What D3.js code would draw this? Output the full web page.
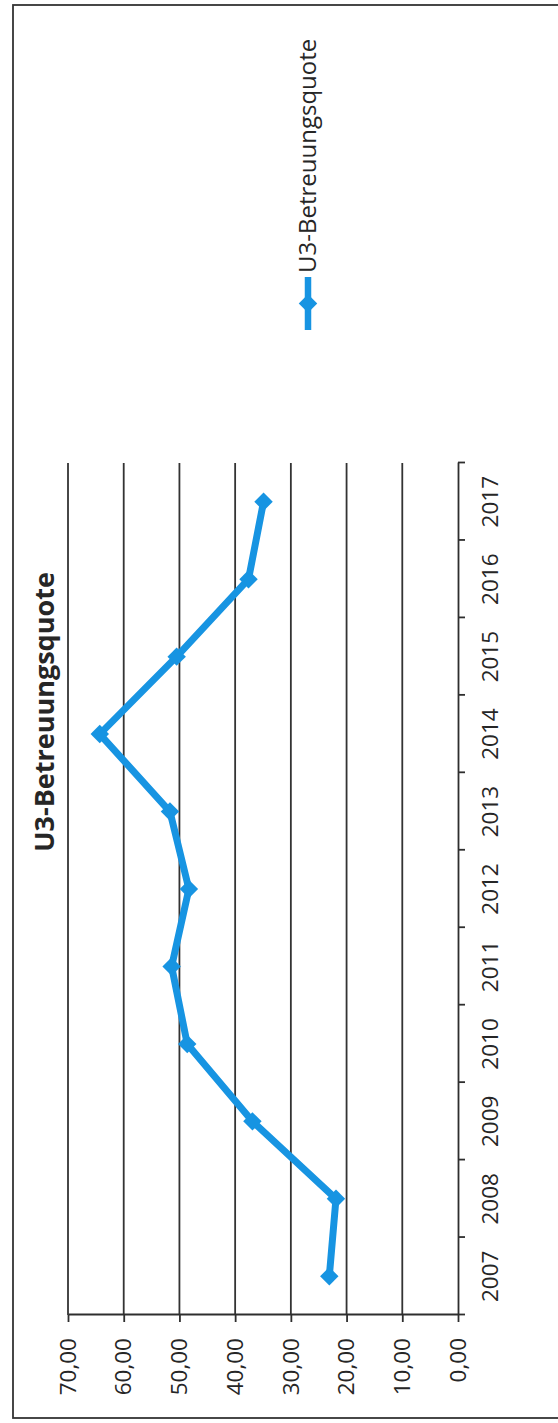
<!DOCTYPE html>
<html lang="de">
<head>
    <meta charset="UTF-8">
    <title>U3-Betreuungsquote</title>
    <script src="https://d3js.org/d3.v7.min.js"></script>
    <style>
        body { margin: 0; background: #fff; }
        svg { display: block; }
        .axis path, .axis line {
            fill: none;
            stroke: #2e2e2e;
            stroke-width: 1.8;
        }
        .axis text {
            font-family: "Open Sans", sans-serif;
            font-size: 22.5px;
            fill: #262626;
        }
        .grid line {
            stroke: #333;
            stroke-width: 1.8;
        }
    </style>
</head>
<body>
    <svg width="558" height="1423"></svg>
    <script>
        const years = ["2007", "2008", "2009", "2010", "2011", "2012", "2013", "2014", "2015", "2016", "2017"];
        const quote = [23.1, 21.9, 36.9, 48.6, 51.4, 48.3, 51.7, 64.3, 50.5, 37.6, 34.9];
        const valueTicks = [0, 10, 20, 30, 40, 50, 60, 70];
        const seriesName = "U3-Betreuungsquote";

        const blue = "#1794e2";
        const svg = d3.select("svg");

        // the chart is drawn upright, then turned a quarter to the left
        const chart = svg.append("g").attr("transform", "translate(13,1418) rotate(-90)");

        chart.append("rect")
            .attr("width", 1413)
            .attr("height", 560)
            .attr("fill", "none")
            .attr("stroke", "#333")
            .attr("stroke-width", 1.8);

        const plot = {left: 103, right: 955, top: 55, bottom: 445};

        const x = d3.scaleBand().domain(years).range([plot.left, plot.right]).padding(0);
        const xEdge = d3.scaleLinear().domain([0, years.length]).range([plot.left, plot.right]);
        const y = d3.scaleLinear().domain([0, 70]).range([plot.bottom, plot.top]);

        const de = d3.formatLocale({decimal: ",", thousands: ".", grouping: [3], currency: ["", " €"]});
        const fmt = de.format(".2f");

        chart.append("g")
            .attr("class", "grid")
            .selectAll("line")
            .data(valueTicks.filter(d => d > 0))
            .join("line")
            .attr("x1", plot.left)
            .attr("x2", plot.right)
            .attr("y1", d => y(d))
            .attr("y2", d => y(d));

        chart.append("g")
            .attr("class", "axis")
            .attr("transform", `translate(${plot.left},0)`)
            .call(d3.axisLeft(y).tickValues(valueTicks).tickSize(7).tickPadding(16).tickFormat(fmt).tickSizeOuter(0));

        // category axis: ticks between the years, labels in the middle
        chart.append("g")
            .attr("class", "axis")
            .attr("transform", `translate(0,${plot.bottom})`)
            .call(d3.axisBottom(xEdge).tickValues(d3.range(years.length + 1)).tickSize(7).tickFormat("").tickSizeOuter(0));

        const catAxis = chart.append("g")
            .attr("class", "axis")
            .attr("transform", `translate(0,${plot.bottom})`)
            .call(d3.axisBottom(x).tickSize(0).tickPadding(24));
        catAxis.select(".domain").remove();

        const pts = years.map((yr, i) => ({yr, v: quote[i]}));
        const cx = d => x(d.yr) + x.bandwidth() / 2;

        chart.append("path")
            .datum(pts)
            .attr("fill", "none")
            .attr("stroke", blue)
            .attr("stroke-width", 7)
            .attr("stroke-linejoin", "round")
            .attr("d", d3.line().x(cx).y(d => y(d.v)));

        const diamond = d3.symbol().type(d3.symbolSquare).size(170);

        chart.append("g")
            .selectAll("path")
            .data(pts)
            .join("path")
            .attr("d", diamond)
            .attr("fill", blue)
            .attr("transform", d => `translate(${cx(d)},${y(d.v)}) rotate(45)`);

        chart.append("text")
            .attr("x", 706)
            .attr("y", 32)
            .attr("dy", "0.35em")
            .attr("text-anchor", "middle")
            .attr("font-family", "'Open Sans', sans-serif")
            .attr("font-weight", "bold")
            .attr("font-size", 27)
            .attr("fill", "#262626")
            .text(seriesName);

        // legend
        const lg = chart.append("g").attr("transform", "translate(1088,295)");
        lg.append("line")
            .attr("x1", 0).attr("x2", 53)
            .attr("stroke", blue)
            .attr("stroke-width", 6.5);
        lg.append("path")
            .attr("d", diamond)
            .attr("fill", blue)
            .attr("transform", "translate(26.5,0) rotate(45)");
        lg.append("text")
            .attr("x", 57)
            .attr("dy", "0.35em")
            .attr("font-family", "'Open Sans', sans-serif")
            .attr("font-size", 24)
            .attr("fill", "#262626")
            .text(seriesName);
    </script>
</body>
</html>
